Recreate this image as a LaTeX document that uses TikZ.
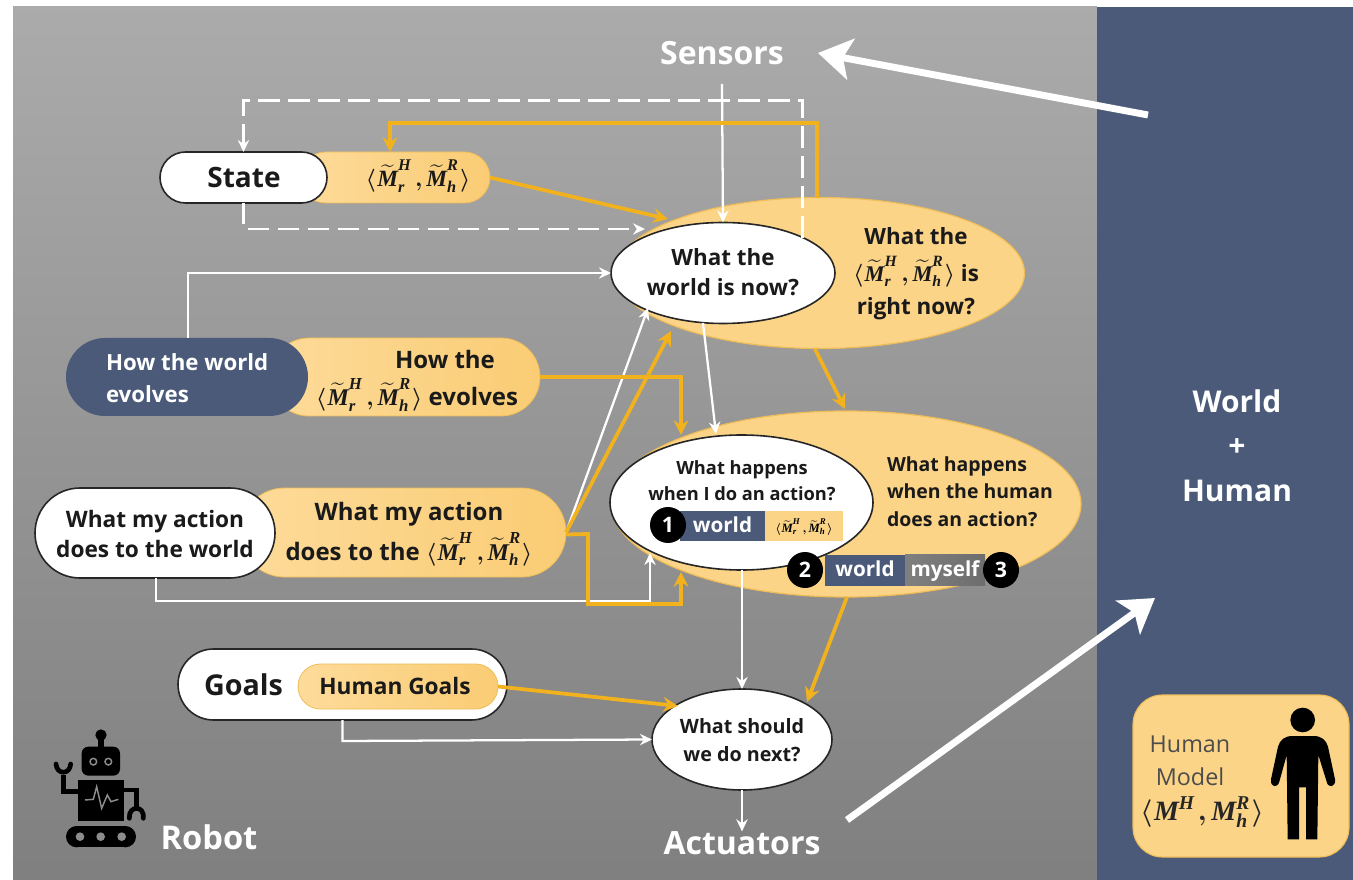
\documentclass[tikz,border=0pt]{standalone}
\usepackage{amsmath}
\usepackage{fontspec}
\setmainfont{Open Sans}
\newfontfamily\mfont{Liberation Serif}
\usetikzlibrary{arrows.meta,shapes.geometric,shapes.misc,shadings}
\definecolor{bluepanel}{HTML}{4A5A78}
\definecolor{orangeline}{HTML}{F2B21E}
\definecolor{orangefill}{HTML}{FBD488}
\definecolor{orangelight}{HTML}{FDDB9A}
\definecolor{orangedeep}{HTML}{FACC74}
\definecolor{orangeedge}{HTML}{EFBD58}
\definecolor{inktext}{HTML}{1A1A1A}
\newcommand{\fsz}[1]{\fontsize{#1}{#1}\selectfont}
\newcommand{\bi}[1]{\text{\mfont\bfseries\itshape #1}}
\newcommand{\modeltilde}{\ensuremath{\boldsymbol{\langle}\mkern1mu\widetilde{\bi{M}}^{\bi{H}}_{\bi{r}}\mkern3mu\boldsymbol{,}\mkern3mu\widetilde{\bi{M}}^{\bi{R}}_{\bi{h}}\mkern1mu\boldsymbol{\rangle}}}
\tikzset{
  pillshape/.style 2 args={rounded rectangle,minimum width=#1*.75pt,minimum height=#2*.75pt,inner sep=0pt,outer sep=0pt},
  ellshape/.style 2 args={ellipse,minimum width=#1*.75pt,minimum height=#2*.75pt,inner sep=0pt,outer sep=0pt},
  barshape/.style 2 args={rectangle,minimum width=#1*.75pt,minimum height=#2*.75pt,inner sep=0pt,outer sep=0pt,text height=11.5pt,text depth=1.5pt},
  orangeshape/.style={fill=orangefill,draw=orangeedge,line width=.9pt},
  orangepill/.style={left color=orangelight,right color=orangedeep,draw=orangeedge,line width=.6pt},
  whiteshape/.style={fill=white,draw=black!85,line width=1.2pt},
  lbl/.style={inner sep=0pt,outer sep=0pt,align=center,font=\bfseries,text=inktext},
  lblw/.style={lbl,text=white},
  numdot/.style={circle,fill=black,text=white,minimum size=27pt,inner sep=0pt,outer sep=0pt,font=\bfseries\fsz{16}},
  thinarrow/.style={draw=white,line width=1.7pt,-{Stealth[length=9pt,width=8.5pt]}},
  dasharrow/.style={draw=white,line width=1.9pt,dash pattern=on 16pt off 6.5pt,-{Stealth[length=9pt,width=8.5pt]}},
  orangearrow/.style={draw=orangeline,line width=2.8pt,-{Stealth[length=11pt,width=11pt]}},
  bigarrow/.style={draw=white,line width=5.2pt,-{Stealth[length=25pt,width=31pt,inset=6pt]}},
}
\begin{document}
\begin{tikzpicture}[x=.75pt,y=-.75pt]
\useasboundingbox (0,0) rectangle (1353,880);
\fill[white] (0,0) rectangle (1353,880);
\shade[top color=black!33,bottom color=black!50] (13,7) rectangle (1097,880);
\fill[bluepanel] (1097,7) rectangle (1353,880);

% ---- labels on backgrounds
\node[lblw,minimum width=192*.75pt,minimum height=62*.75pt,font=\bfseries\fsz{24}] (sensors) at (722,53) {Sensors};
\node[lblw,font=\bfseries\fsz{24}] (actuators) at (742,843) {Actuators};
\node[lblw,font=\bfseries\fsz{24.5}] (robot) at (209,837) {Robot};
\node[lblw,font=\bfseries\fsz{22.5}] (wh1) at (1237,401) {World};
\node[lblw,font=\bfseries\fsz{22.5}] (wh2) at (1237,448) {+};
\node[lblw,font=\bfseries\fsz{22.5}] (wh3) at (1237,491) {Human};

% ---- state
\node[pillshape={190}{51},orangepill] (stateO) at (395,177.5) {};
\node[pillshape={167}{51},whiteshape] (stateW) at (243.5,177.5) {};
\node[lbl,font=\bfseries\fsz{21}] (stateT) at (244,178) {State};
\node[lbl,font=\fsz{17.5}] (stateM) at (418,176) {\modeltilde};

% ---- world now
\node[ellshape={409}{151},orangeshape] (worldO) at (820,273) {};
\node[ellshape={224}{101},whiteshape] (worldW) at (723,273) {};
\node[lbl,font=\bfseries\fsz{16.8}] (worldT) at (723,272) {What the\\[6pt]world is now?};
\node[lbl,font=\bfseries\fsz{16.8}] (worldR) at (916,274) {What the\\[7pt]\modeltilde{} is\\[7pt]right now?};

% ---- evolves
\node[pillshape={270}{78},orangepill] (evolO) at (405,377) {};
\node[pillshape={242}{78},fill=bluepanel] (evolB) at (187,377) {};
\node[lblw,align=left,anchor=west,font=\bfseries\fsz{16.7}] (evolT) at (106,378) {How the world\\[7.5pt]evolves};
\node[lbl,font=\bfseries\fsz{18}] (evolR1) at (445,360) {How the};
\node[lbl,font=\bfseries\fsz{18}] (evolR2) at (417,395) {\modeltilde{} evolves};

% ---- action
\node[pillshape={326}{89},orangepill] (actO) at (403,532.5) {};
\node[pillshape={240}{90},whiteshape] (actW) at (155,533) {};
\node[lbl,font=\bfseries\fsz{17}] (actT) at (155,534) {What my action\\[6pt]does to the world};
\node[lbl,font=\bfseries\fsz{18}] (actR) at (409,534) {What my action\\[4pt]does to the \modeltilde};

% ---- happens
\node[ellshape={470}{186},orangeshape] (hapO) at (846,504) {};
\node[ellshape={263}{135},whiteshape] (hapW) at (741.5,502.5) {};
\node[lbl,font=\bfseries\fsz{13.7}] (hapT) at (742,481) {What happens\\[6pt]when I do an action?};
\node[lbl,align=left,anchor=west,font=\bfseries\fsz{14.6}] (hapR) at (887,491.5) {What happens\\[6pt]when the human\\[6pt]does an action?};
\node[barshape={85}{30},fill=bluepanel,text=white,font=\bfseries\fsz{15.5}] (bar1) at (722.5,526) {world};
\node[barshape={78}{30},fill=orangefill,font=\fsz{9.5}] (bar1m) at (804,526) {\modeltilde};
\node[numdot] (n1) at (668,525) {1};
\node[barshape={80}{31},fill=bluepanel,text=white,font=\bfseries\fsz{15.5}] (bar2) at (865,570) {world};
\node[barshape={80}{31},left color=black!50,right color=black!57,text=white,font=\bfseries\fsz{15.5}] (bar3) at (945,570) {myself};
\node[numdot] (n2) at (805,570) {2};
\node[numdot] (n3) at (1001,570) {3};

% ---- goals
\node[pillshape={329}{71},whiteshape] (goalW) at (342.5,684.5) {};
\node[pillshape={200}{45},orangepill] (goalO) at (398,686.5) {};
\node[lbl,font=\bfseries\fsz{21.5}] (goalT) at (243.5,685) {Goals};
\node[lbl,font=\bfseries\fsz{17}] (goalH) at (395,686) {Human Goals};

% ---- next
\node[ellshape={180}{101},whiteshape] (nextW) at (742,739.5) {};
\node[lbl,font=\bfseries\fsz{14.8}] (nextT) at (742,740) {What should\\[6pt]we do next?};

% ---- human model
\node[rectangle,rounded corners=22pt,minimum width=216*.75pt,minimum height=162*.75pt,inner sep=0pt,fill=orangefill,draw=orangeedge,line width=.8pt] (hm) at (1241,776) {};
\node[inner sep=0pt,text=black!70,font=\fsz{17.5}] (hmA) at (1190,744) {Human};
\node[inner sep=0pt,text=black!70,font=\fsz{17.5}] (hmB) at (1190,777) {Model};
\node[inner sep=0pt,text=black!85,font=\fsz{21}] (hmC) at (1202,812) {$\boldsymbol{\langle}\mkern1mu\bi{M}^{\bi{H}}\mkern2mu\boldsymbol{,}\mkern3mu\bi{M}^{\bi{R}}_{\bi{h}}\mkern1mu\boldsymbol{\rangle}$};
\begin{scope}[shift={(1100,680)},x=.25pt,y=-.25pt]
\fill[black] (608,120) circle (37);
\fill[black] (578,168) -- (640,168) .. controls (665,168) and (678,180) .. (684,200) -- (705,298)
  .. controls (708,322) and (684,326) .. (680,305) -- (655,225) -- (652,478) -- (618,478) -- (618,322) -- (597,322) -- (597,478) -- (563,478) -- (560,225) -- (538,305)
  .. controls (532,326) and (510,322) .. (513,298) -- (534,200) .. controls (540,180) and (553,168) .. (578,168) -- cycle;
\end{scope}

% ---- robot
\begin{scope}[shift={(30,640)},x=.25pt,y=-.25pt]
\fill[black] (213,285) circle (17);
\draw[black,line width=4pt] (213,290) -- (213,330);
\fill[black,rounded corners=5pt] (155,320) rectangle (270,407);
\foreach \ex in {190,235}{\draw[black!45,line width=1.1pt] (\ex,365) circle (10);}
\fill[black] (143,420) rectangle (283,543);
\draw[black!45,line width=1.1pt] (165,480) -- (190,478) -- (200,440) -- (215,505) -- (232,465) -- (243,485) -- (265,478);
\draw[black,line width=3.7pt] (143,455) -- (100,455) -- (100,405);
\draw[black,line width=3.5pt,line cap=round] (78,372) .. controls (80,405) and (120,405) .. (122,372);
\draw[black,line width=3.7pt] (283,450) -- (320,450) -- (320,505);
\draw[black,line width=3.5pt,line cap=round] (298,535) .. controls (295,495) and (345,495) .. (340,535);
\fill[black] (140,558) rectangle (286,622);
\fill[black] (140,590) circle (32);
\fill[black] (286,590) circle (32);
\foreach \wx in {150,212,275}{\fill[black!45] (\wx,590) circle (13);}
\end{scope}

% ---- connector corner points
\coordinate (sensorsFree) at (1148,115);
\coordinate (bigStart) at (847,820);
\coordinate (bigEnd) at (1155,598);

% ---- connectors: big arrows
\draw[bigarrow] (sensorsFree) -- (sensors.east);
\draw[bigarrow] (bigStart) -- (bigEnd);

% ---- connectors: white
\draw[dasharrow] (worldW.24) -- ++(0,-137) -| (stateW.north);
\draw[dasharrow] (stateW.south) -- ++(0,26) -- (645,229);
\draw[thinarrow] (sensors.south) -- (worldW.north);
\draw[thinarrow] (evolB.north) ++(1,0) |- (worldW.west);
\draw[thinarrow] (703,323) -- (716,434);
\draw[thinarrow] (actO.east) -- (648,308);
\draw[thinarrow] (actW.south) ++(1,0) -- ++(0,23) -- (650,601) -- (650,553);
\draw[thinarrow] (742,570) -- (nextW.north);
\draw[thinarrow] (goalW.south) -- ++(0,21) -- (nextW.west);
\draw[thinarrow] (nextW.south) -- (actuators.north);

% ---- connectors: orange
\draw[orangearrow] (817,198) -- (817,123) -- (390,123) -- (390,152);
\draw[orangearrow] (stateO.east) -- (668,219);
\draw[orangearrow] (815,349) -- (845,409);
\draw[orangearrow] (evolO.east) -- (681,377) -- (681,435);
\draw[orangearrow] (actO.east) -- (671,331);
\draw[orangearrow] (actO.east) ++(0,2) -- (588,534) -- (588,604) -- (681,604) -- (681,572);
\draw[orangearrow] (847,597) -- (807,702);
\draw[orangearrow] (goalO.east) -- (678,706);
\end{tikzpicture}
\end{document}
